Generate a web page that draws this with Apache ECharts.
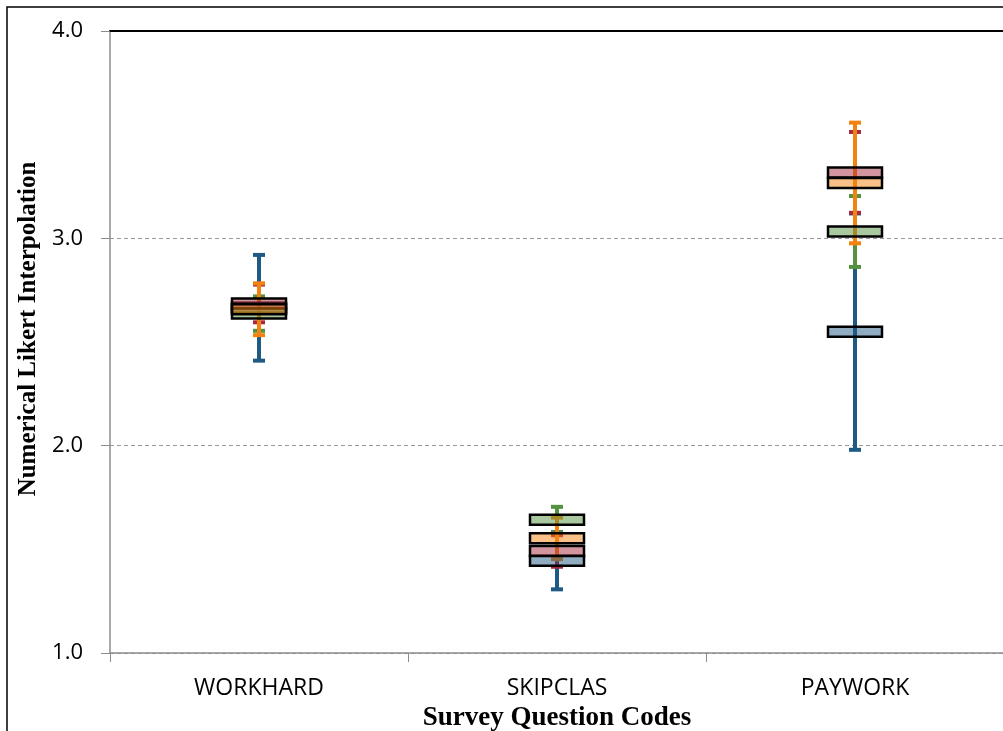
<!DOCTYPE html>
<html>
<head>
<meta charset="utf-8">
<script src="https://cdn.jsdelivr.net/npm/echarts@6/dist/echarts.min.js"></script>
<style>
  html, body { margin: 0; padding: 0; background: #fff; }
  #chart { width: 1003px; height: 731px; }
</style>
</head>
<body>
<div id="chart"></div>
<script>
// Survey question codes on the category axis
const categories = ['WORKHARD', 'SKIPCLAS', 'PAYWORK'];

// Mean Likert score and error half-width for each of the four groups
const groupAMean = [2.665, 1.445, 2.550];
const groupAErr  = [0.255, 0.138, 0.570];
const groupBMean = [2.686, 1.492, 3.318];
const groupBErr  = [0.091, 0.076, 0.195];
const groupCMean = [2.637, 1.643, 3.033];
const groupCErr  = [0.083, 0.062, 0.171];
const groupDMean = [2.658, 1.553, 3.267];
const groupDErr  = [0.125, 0.100, 0.291];

// Value axis range and step
const yMin = 1, yMax = 4, yStep = 1;

const groups = [
  { name: 'Group A', mean: groupAMean, err: groupAErr },
  { name: 'Group B', mean: groupBMean, err: groupBErr },
  { name: 'Group C', mean: groupCMean, err: groupCErr },
  { name: 'Group D', mean: groupDMean, err: groupDErr }
];
const colors = ['#1f5a84', '#a52a3f', '#55923f', '#f4820f'];

const labelFont = '"Open Sans", "Noto Sans", sans-serif';
const titleFont = '"Liberation Serif", "DejaVu Serif", serif';

function rowsOf(g) {
  return categories.map((c, i) => [i, g.mean[i], g.err[i]]);
}

// Error bar: vertical stem with a cap at each end
function whiskerRenderer(color) {
  return function (params, api) {
    const x = api.value(0), m = api.value(1), e = api.value(2);
    const top = api.coord([x, m + e]);
    const bot = api.coord([x, m - e]);
    const cx = top[0];
    const half = 6;
    const style = { stroke: color, lineWidth: 4, lineCap: 'butt' };
    return {
      type: 'group',
      children: [
        { type: 'line', shape: { x1: cx, y1: top[1], x2: cx, y2: bot[1] }, style },
        { type: 'line', shape: { x1: cx - half, y1: top[1], x2: cx + half, y2: top[1] }, style },
        { type: 'line', shape: { x1: cx - half, y1: bot[1], x2: cx + half, y2: bot[1] }, style }
      ]
    };
  };
}

// Mean marker: translucent box with a black outline
function boxRenderer(color) {
  return function (params, api) {
    const x = api.value(0), m = api.value(1);
    const c = api.coord([x, m]);
    const w = 54, h = 10;
    return {
      type: 'rect',
      shape: { x: c[0] - w / 2, y: c[1] - h / 2, width: w, height: h },
      style: { fill: echarts.color.modifyAlpha(color, 0.5), stroke: '#000', lineWidth: 2.5 }
    };
  };
}

const series = [];
groups.forEach((g, i) => {
  series.push({
    name: g.name,
    type: 'custom',
    z: 3,
    renderItem: whiskerRenderer(colors[i]),
    encode: { x: 0, y: [1] },
    data: rowsOf(g),
    silent: true
  });
});
groups.forEach((g, i) => {
  series.push({
    name: g.name,
    type: 'custom',
    z: 4,
    renderItem: boxRenderer(colors[i]),
    encode: { x: 0, y: [1] },
    data: rowsOf(g),
    silent: true
  });
});

const chart = echarts.init(document.getElementById('chart'), null, { renderer: 'canvas' });
chart.setOption({
  animation: false,
  backgroundColor: '#fff',
  grid: { left: 110, top: 31, width: 894, height: 622, containLabel: false, outerBoundsMode: 'none' },
  xAxis: [
    {
      type: 'category',
      data: categories,
      position: 'bottom',
      axisLine: { lineStyle: { color: '#8c8c8c', width: 1.5 } },
      axisTick: { show: true, length: 9, lineStyle: { color: '#8c8c8c', width: 1 } },
      axisLabel: { color: '#000', fontFamily: labelFont, fontSize: 23, margin: 24 },
      splitLine: { show: false },
      name: 'Survey Question Codes',
      nameLocation: 'middle',
      nameGap: 51,
      nameTextStyle: { color: '#000', fontFamily: titleFont, fontWeight: 'bold', fontSize: 27 }
    },
    {
      type: 'category',
      data: categories,
      position: 'top',
      axisLine: { lineStyle: { color: '#000', width: 2 } },
      axisTick: { show: false },
      axisLabel: { show: false },
      splitLine: { show: false }
    }
  ],
  yAxis: {
    type: 'value',
    min: yMin,
    max: yMax,
    interval: yStep,
    axisLine: { show: true, lineStyle: { color: '#8c8c8c', width: 1.5 } },
    axisTick: { show: true, length: 9, lineStyle: { color: '#8c8c8c' } },
    axisLabel: {
      color: '#000', fontFamily: labelFont, fontSize: 22, margin: 27,
      formatter: v => v.toFixed(1)
    },
    splitLine: { show: true, lineStyle: { color: '#9a9a9a', type: [4, 3], width: 1 } }
  },
  graphic: [
    {
      type: 'rect',
      z: -1,
      shape: { x: 7, y: 7, width: 1100, height: 800 },
      style: { fill: 'none', stroke: '#000', lineWidth: 1.5 },
      silent: true
    },
    {
      type: 'text',
      x: 29,
      y: 329,
      rotation: Math.PI / 2,
      style: {
        text: 'Numerical Likert Interpolation',
        fill: '#000',
        font: 'bold 25px ' + titleFont,
        align: 'center',
        verticalAlign: 'middle'
      },
      silent: true
    }
  ],
  series
});
</script>
</body>
</html>
